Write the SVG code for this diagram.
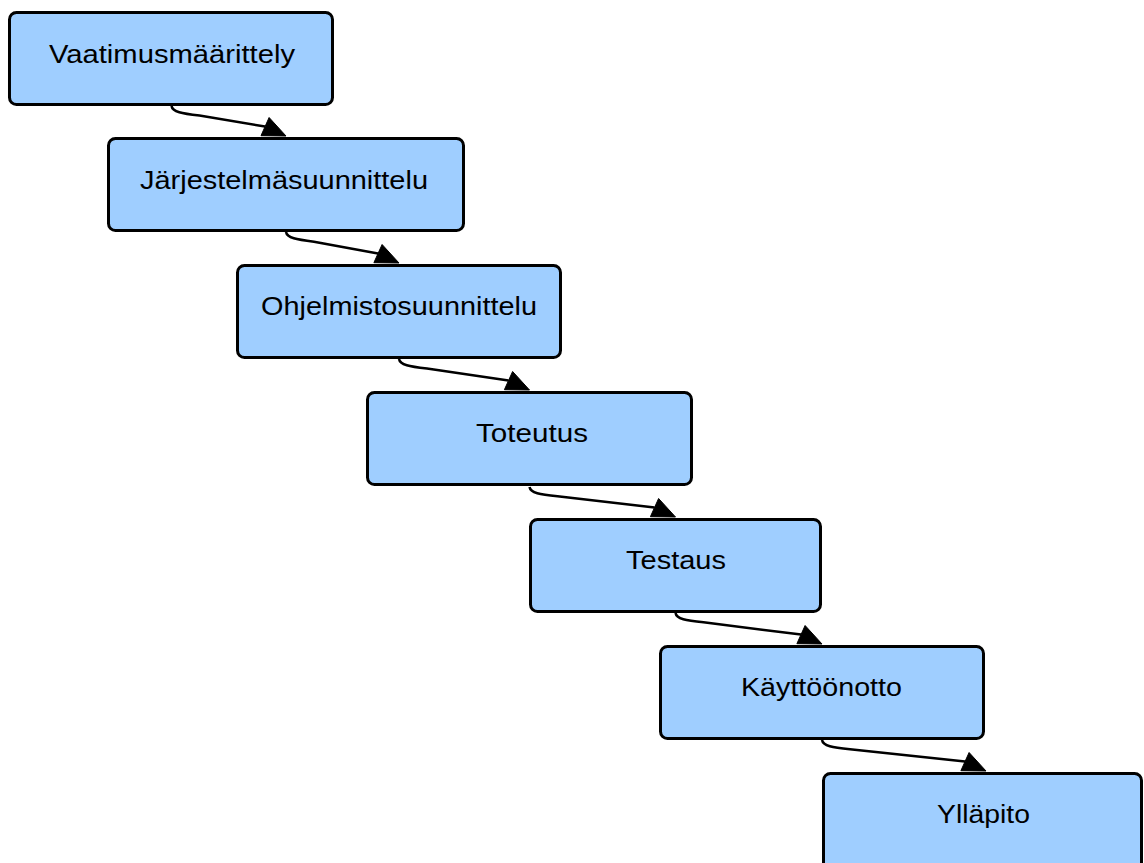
<svg xmlns="http://www.w3.org/2000/svg" width="1144" height="863" viewBox="0 0 1144 863">
<style>
.box{fill:#9fceff;stroke:#000;stroke-width:3}
.lbl{font-family:"Liberation Sans",Arial,sans-serif;font-size:25px;fill:#000;text-anchor:middle}
.edge{fill:none;stroke:#000;stroke-width:2.5}
.head{fill:#000;stroke:#000;stroke-width:1;stroke-linejoin:round}
</style>
<rect width="1144" height="863" fill="#fff"/>
<g id="connectors">
  <path class="edge" d="M171.5,106 C172.5,112 182,113.5 199.5,115.6 L265,126.6"/>
  <polygon class="head" points="286,136 261,135.7 269.1,117.5"/>
  <path class="edge" d="M286,232 C287,238 296.5,239.5 314,241.8 L378,253.6"/>
  <polygon class="head" points="399,263 373.9,262.7 382.1,244.5"/>
  <path class="edge" d="M399,359 C400,365 409.5,366.5 427,368.6 L508.5,380.6"/>
  <polygon class="head" points="529.5,390 504.4,389.7 512.6,371.5"/>
  <path class="edge" d="M529.5,487 C530.5,493 540,494.5 557.5,496.3 L654.5,507.6"/>
  <polygon class="head" points="675.5,517 650.4,516.7 658.6,498.5"/>
  <path class="edge" d="M675.5,613 C676.5,619 686,620.5 703.5,622.3 L801,634.6"/>
  <polygon class="head" points="822,644 796.9,643.7 805.1,625.5"/>
  <path class="edge" d="M822,740 C823,746 832.5,747.5 850,749.2 L965,761.6"/>
  <polygon class="head" points="986,771 960.9,770.7 969.1,752.5"/>
</g>
<g id="n1">
  <rect class="box" x="9.5" y="12.5" width="323" height="92" rx="7"/>
  <text class="lbl" x="172" y="63" textLength="246" lengthAdjust="spacingAndGlyphs">Vaatimusmäärittely</text>
</g>
<g id="n2">
  <rect class="box" x="108.5" y="138.5" width="355" height="92" rx="7"/>
  <text class="lbl" x="284" y="189" textLength="288" lengthAdjust="spacingAndGlyphs">Järjestelmäsuunnittelu</text>
</g>
<g id="n3">
  <rect class="box" x="237.5" y="265.5" width="323" height="92" rx="7"/>
  <text class="lbl" x="399" y="315" textLength="276" lengthAdjust="spacingAndGlyphs">Ohjelmistosuunnittelu</text>
</g>
<g id="n4">
  <rect class="box" x="367.5" y="392.5" width="324" height="92" rx="7"/>
  <text class="lbl" x="532" y="442" textLength="112" lengthAdjust="spacingAndGlyphs">Toteutus</text>
</g>
<g id="n5">
  <rect class="box" x="530.5" y="519.5" width="290" height="92" rx="7"/>
  <text class="lbl" x="676" y="569" textLength="100" lengthAdjust="spacingAndGlyphs">Testaus</text>
</g>
<g id="n6">
  <rect class="box" x="660.5" y="646.5" width="323" height="92" rx="7"/>
  <text class="lbl" x="821.5" y="696" textLength="161" lengthAdjust="spacingAndGlyphs">Käyttöönotto</text>
</g>
<g id="n7">
  <rect class="box" x="823.5" y="773.5" width="318" height="96" rx="7"/>
  <text class="lbl" x="983.5" y="823" textLength="93" lengthAdjust="spacingAndGlyphs">Ylläpito</text>
</g>
</svg>
